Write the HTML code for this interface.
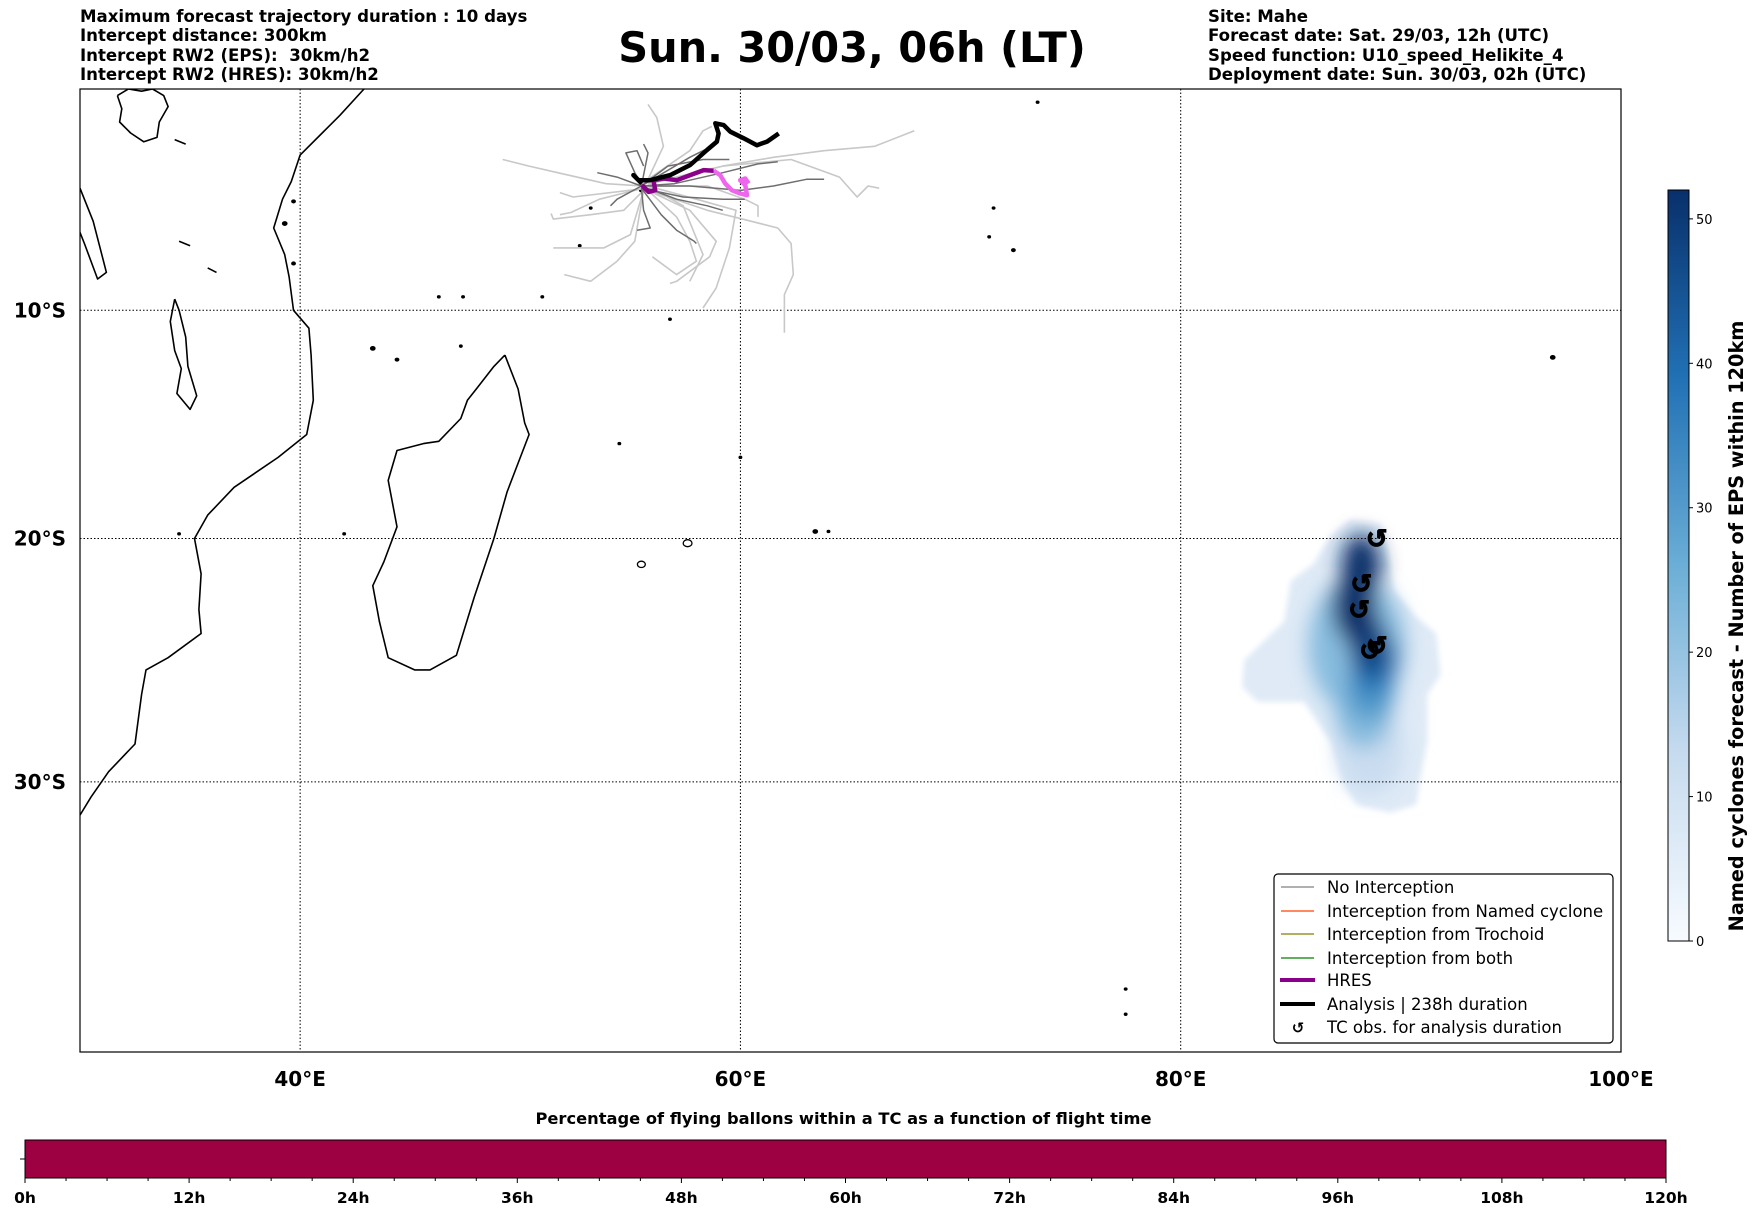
<!DOCTYPE html>
<html><head><meta charset="utf-8"><style>
body{margin:0;background:#fff;}
svg{display:block;font-family:"DejaVu Sans","Liberation Sans",sans-serif;}
</style></head><body>
<svg id="fig" width="1752" height="1213" viewBox="0 0 1752 1213" xmlns="http://www.w3.org/2000/svg">
<defs>
<linearGradient id="blues" x1="0" y1="1" x2="0" y2="0">
<stop offset="0" stop-color="#f7fbff"/><stop offset="0.25" stop-color="#c6dbef"/><stop offset="0.5" stop-color="#6baed6"/><stop offset="0.75" stop-color="#2171b5"/><stop offset="1" stop-color="#08306b"/>
</linearGradient>
<filter id="blur" x="-50%" y="-50%" width="200%" height="200%"><feGaussianBlur stdDeviation="10"/></filter>
<filter id="blur2" x="-20%" y="-20%" width="140%" height="140%"><feGaussianBlur stdDeviation="3"/></filter>
<clipPath id="mapclip"><rect x="80" y="89" width="1541" height="963"/></clipPath>
</defs>
<g font-weight="bold" font-size="16.6">
<text x="80" y="22">Maximum forecast trajectory duration : 10 days</text>
<text x="80" y="41">Intercept distance: 300km</text>
<text x="80" y="61" xml:space="preserve">Intercept RW2 (EPS):  30km/h2</text>
<text x="80" y="80">Intercept RW2 (HRES): 30km/h2</text>
</g>
<text x="852" y="62" text-anchor="middle" font-weight="bold" font-size="41.5">Sun. 30/03, 06h (LT)</text>
<g font-weight="bold" font-size="16.6">
<text x="1208" y="22">Site: Mahe</text>
<text x="1208" y="41">Forecast date: Sat. 29/03, 12h (UTC)</text>
<text x="1208" y="61">Speed function: U10_speed_Helikite_4</text>
<text x="1208" y="80">Deployment date: Sun. 30/03, 02h (UTC)</text>
</g>
<g id="map" clip-path="url(#mapclip)"></g>
<rect x="80" y="89" width="1541" height="963" fill="none" stroke="#000" stroke-width="1.2"/>
<g id="axes"></g>
<g>
<rect x="1274" y="874" width="339" height="169" rx="4" fill="#fff" stroke="#000" stroke-width="1.2"/>
<g font-size="16.5">
<line x1="1281" y1="887" x2="1314" y2="887" stroke="#808080" stroke-width="1.2"/><text x="1327" y="893">No Interception</text>
<line x1="1281" y1="911" x2="1314" y2="911" stroke="#ff4500" stroke-width="1.2"/><text x="1327" y="917">Interception from Named cyclone</text>
<line x1="1281" y1="934" x2="1314" y2="934" stroke="#808000" stroke-width="1.2"/><text x="1327" y="940">Interception from Trochoid</text>
<line x1="1281" y1="958" x2="1314" y2="958" stroke="#008000" stroke-width="1.2"/><text x="1327" y="964">Interception from both</text>
<line x1="1280" y1="980" x2="1315" y2="980" stroke="#8b008b" stroke-width="4"/><text x="1327" y="986">HRES</text>
<line x1="1280" y1="1004" x2="1315" y2="1004" stroke="#000" stroke-width="4"/><text x="1327" y="1010">Analysis | 238h duration</text>
<text x="1298" y="1033" text-anchor="middle" font-weight="bold" font-size="15">↺</text><text x="1327" y="1033">TC obs. for analysis duration</text>
</g>
</g>
<g id="cbar"></g>
<g id="bbar"></g>
</svg>
<script>
const NS="http://www.w3.org/2000/svg";
// ---- data ----
const lonTicks=[40,60,80,100];
const latTicks=[-10,-20,-30];
const cbarTicks=[0,10,20,30,40,50];
const cbarMax=52;
const flightHours=[0,12,24,36,48,60,72,84,96,108,120];
const coastAfrica=[[42.9,0],[41.8,-1.2],[41,-2],[40,-3],[39.6,-4.2],[39.2,-5],[38.8,-6.3],[39.3,-7.5],[39.5,-8.5],[39.7,-10],[40.4,-10.8],[40.5,-12],[40.6,-14],[40.3,-15.5],[39,-16.5],[37,-17.8],[35.8,-19],[35.2,-20],[35.5,-21.5],[35.4,-23],[35.5,-24],[34,-25],[33,-25.5],[32.8,-26.5],[32.5,-28.5],[31.3,-29.6],[30.5,-30.6],[30,-31.3]];
const coastMadagascar=[[49.3,-12],[49.9,-13.5],[50.2,-15],[50.4,-15.5],[49.8,-17],[49.4,-18],[48.8,-20],[47.9,-22.5],[47.1,-24.9],[45.9,-25.5],[45.2,-25.5],[44,-25],[43.6,-23.5],[43.3,-22],[43.8,-21],[44.4,-19.5],[44,-17.5],[44.4,-16.2],[45.6,-15.9],[46.3,-15.8],[47.3,-14.8],[47.6,-14],[48,-13.5],[48.8,-12.5],[49.3,-12]];
const lakeMalawi=[[34.3,-9.5],[34.1,-10.5],[34.3,-11.8],[34.6,-12.6],[34.4,-13.7],[35.0,-14.4],[35.3,-13.8],[34.9,-12.5],[34.8,-11.2],[34.5,-10],[34.3,-9.5]];
const lakeVictoria=[[31.7,-0.3],[32.2,0],[32.8,-0.1],[33.3,0],[33.8,-0.3],[34.0,-0.8],[33.6,-1.5],[33.5,-2.2],[32.9,-2.4],[32.3,-2.0],[31.8,-1.5],[31.9,-0.9],[31.7,-0.3]];
const lakeTanganyika=[[30,-4.5],[30.6,-6],[31.2,-8.3],[30.8,-8.6],[30.2,-7],[29.6,-5.5],[30,-4.5]];
const lakeOther=[[[34.3,-2.3],[34.8,-2.5]],[[34.5,-6.9],[35.0,-7.1]],[[35.8,-8.1],[36.2,-8.3]]];
const islands=[[55.5,-21.1,0.18],[57.6,-20.2,0.2],[63.4,-19.7,0.1],[55.5,-4.6,0.08],[43.3,-11.7,0.1],[44.4,-12.2,0.08],[39.3,-6.1,0.1],[39.7,-5.1,0.08],[39.7,-7.9,0.08],[72.4,-7.3,0.08],[71.5,-5.4,0.06],[73.5,-0.6,0.06],[96.9,-12.1,0.1],[77.5,-37.8,0.06],[77.5,-38.7,0.05],[46.3,-9.4,0.05],[47.4,-9.4,0.05],[51.0,-9.4,0.05],[53.2,-5.4,0.05],[52.7,-7.1,0.05],[56.8,-10.4,0.05],[47.3,-11.6,0.05],[54.5,-15.9,0.05],[42.0,-19.8,0.05],[60.0,-16.5,0.05],[71.3,-6.7,0.05],[64.0,-19.7,0.05],[34.5,-19.8,0.05]];
const trajLight=[
[[55.6,-4.4],[53.9,-4.3],[51.7,-3.8],[50.4,-3.5],[49.2,-3.2]],
[[55.6,-4.5],[53.6,-5.0],[52.3,-5.6],[51.8,-5.7]],
[[55.6,-4.6],[54.7,-5.5],[53.2,-5.7],[51.5,-5.9],[51.4,-5.65]],
[[55.6,-4.6],[55.0,-6.6],[53.8,-7.2],[51.5,-7.2]],
[[55.6,-4.6],[55.2,-6.9],[54.4,-7.8],[53.2,-8.7],[52.0,-8.4]],
[[55.8,-4.6],[57.1,-5.8],[57.7,-6.9],[58.0,-7.8],[57.1,-8.4],[56.0,-7.6]],
[[55.8,-4.6],[57.7,-5.5],[58.9,-6.9],[58.6,-7.6],[57.1,-8.7],[56.8,-8.8]],
[[55.8,-4.6],[58.5,-5.5],[60.5,-6.0],[61.7,-6.3],[62.3,-7.0],[62.4,-8.4],[62.0,-9.3],[62.0,-11.0]],
[[55.9,-4.3],[59.2,-3.5],[62.3,-3.2],[64.5,-4.0],[65.3,-4.9],[65.8,-4.4],[66.3,-4.5]],
[[55.8,-4.3],[59.2,-3.5],[61.5,-3.1],[63.8,-2.8],[66.1,-2.6],[67.9,-1.9]],
[[55.8,-4.1],[56.5,-2.6],[56.2,-1.3],[55.8,-0.7]],
[[55.8,-4.1],[57.7,-2.8],[58.3,-1.9],[58.7,-1.7]],
[[55.8,-4.4],[58.5,-4.4],[60.2,-5.0],[60.8,-5.3],[60.8,-5.8]],
[[55.8,-4.4],[58.0,-5.0],[59.8,-5.5],[59.5,-7.2],[58.9,-9.0],[58.3,-9.9]],
[[55.8,-4.5],[52.4,-4.9],[51.8,-4.7]],
[[55.8,-4.4],[57.4,-5.3],[58.3,-7.5],[57.7,-8.7]]];
const trajDark=[
[[55.5,-4.3],[55.2,-3.8],[54.8,-2.9],[55.3,-2.8],[55.6,-3.5]],
[[55.5,-4.4],[54.4,-4.0],[53.5,-3.8]],
[[55.5,-4.4],[57.0,-4.3],[59.2,-3.8],[60.8,-3.4],[61.7,-3.3]],
[[55.5,-4.4],[57.7,-4.4],[60.0,-4.6],[61.5,-4.4],[63.0,-4.1],[63.8,-4.1]],
[[55.5,-4.4],[57.7,-3.1],[58.3,-2.8],[58.9,-2.5]],
[[55.5,-4.4],[57.1,-5.0],[58.5,-5.3],[59.2,-5.5]],
[[55.5,-4.5],[55.6,-5.5],[55.9,-6.3],[55.3,-6.4]],
[[55.5,-4.5],[56.4,-5.7],[57.1,-6.4],[57.9,-6.9],[58.0,-7.0]],
[[55.5,-4.4],[54.4,-5.0],[54.1,-5.3]],
[[55.5,-4.4],[56.7,-3.5],[58.3,-3.2],[59.5,-3.2]],
[[55.5,-4.5],[57.4,-4.9],[59.2,-5.0],[60.2,-5.0]],
[[55.5,-4.4],[55.8,-2.9],[55.6,-2.5]]];
const analysisTrack=[[55.52,-4.29],[55.14,-3.91],[55.37,-4.14],[55.9,-4.14],[56.81,-3.91],[57.72,-3.45],[58.48,-2.77],[58.93,-2.39],[59.01,-2.02],[58.86,-1.56],[59.24,-1.64],[59.54,-1.94],[60.15,-2.24],[60.75,-2.55],[61.21,-2.39],[61.74,-2.02]];
const hresTrack=[[55.52,-4.36],[55.83,-4.67],[56.13,-4.59],[56.05,-4.14],[56.51,-4.06],[57.11,-4.14],[57.72,-3.91],[58.33,-3.68],[58.78,-3.71]];
const hresLate=[[58.78,-3.71],[59.08,-3.91],[59.31,-4.29],[59.61,-4.59],[59.99,-4.74],[60.3,-4.82],[60.22,-4.36],[59.99,-4.14],[60.22,-4.06],[60.37,-4.29]];
const densityOutline=[[87.7,-19.2],[89.1,-19.4],[89.4,-20.6],[89.7,-22.2],[90.7,-23.3],[91.6,-24.0],[91.8,-25.7],[91.2,-26.5],[91.2,-28.4],[90.9,-29.8],[90.7,-30.9],[89.5,-31.2],[88.0,-30.9],[87.4,-30.1],[86.8,-28.4],[85.6,-26.8],[83.5,-26.8],[82.8,-26.2],[82.9,-25.1],[84.7,-23.5],[85.0,-21.8],[86.0,-21.1],[86.8,-19.9]];
const blobLon=[88.6,88.3,88.6,88.7,88.9,88.2,87.9,88.5,88.0];
const blobLat=[-28.8,-27.2,-26.4,-25.5,-25.0,-21.2,-22.9,-24.4,-24.5];
const blobVal=[12,22,30,36,42,52,52,48,22];
const blobSpreadLon=[1.5,1.3,1.1,1.0,0.9,0.9,1.0,0.9,2.2];
const blobSpreadLat=[1.7,1.5,1.2,1.1,1.0,1.4,1.5,1.2,2.8];
const tcLon=[88.9,88.2,88.1,88.6,88.9];
const tcLat=[-20.0,-21.9,-23.0,-24.7,-24.5];
// ---- projection ----
const R=1261.3;
function X(lon){return 80+(lon-30)*22.014;}
function Y(lat){return 89-R*Math.log(Math.tan(Math.PI/4+lat*Math.PI/360));}
function pts(a){return a.map(p=>X(p[0]).toFixed(1)+","+Y(p[1]).toFixed(1)).join(" ");}
function el(tag,attrs,parent){const e=document.createElementNS(NS,tag);for(const k in attrs)e.setAttribute(k,attrs[k]);parent.appendChild(e);return e;}
function blues(t){const s=[[247,251,255],[198,219,239],[107,174,214],[33,113,181],[8,48,107]];t=Math.max(0,Math.min(1,t))*4;const i=Math.min(3,Math.floor(t)),f=t-i;return "rgb("+s[i].map((c,k)=>Math.round(c+(s[i+1][k]-c)*f)).join(",")+")";}
const map=document.getElementById("map");
// density
const dg=el("g",{},map);


const outl=el("polygon",{points:pts(densityOutline),fill:"#dfeaf6",filter:"url(#blur2)"},dg);


const bg=el("g",{filter:"url(#blur)"},dg);
const order=blobVal.map((v,i)=>i).sort((a,b)=>blobVal[a]-blobVal[b]);
for(const i of order){
 const cx=X(blobLon[i]),cy=Y(blobLat[i]);
 const rx=X(blobLon[i]+blobSpreadLon[i])-cx,ry=Y(blobLat[i]-blobSpreadLat[i])-cy;
 const e=el("ellipse",{cx:cx,cy:cy,rx:rx,ry:ry,fill:blues(blobVal[i]/cbarMax)},bg);
 
 
}
// grid
for(const lon of lonTicks){if(lon>=100)continue;const l=el("line",{x1:X(lon),x2:X(lon),y1:89,y2:1052,stroke:"#000","stroke-width":1,"stroke-dasharray":"1.5,2"},map);

}
for(const lat of latTicks){const l=el("line",{x1:80,x2:1621,y1:Y(lat),y2:Y(lat),stroke:"#000","stroke-width":1,"stroke-dasharray":"1.5,2"},map);

}
// coasts
const cg=el("g",{fill:"none",stroke:"#000","stroke-width":1.6,"stroke-linejoin":"round"},map);


const af=el("polyline",{points:pts(coastAfrica)},cg);


const md=el("polyline",{points:pts(coastMadagascar)},cg);


for(const lk of [lakeMalawi,lakeVictoria,lakeTanganyika]){const p=el("polyline",{points:pts(lk)},cg);

}
for(const lk of lakeOther){const p=el("polyline",{points:pts(lk)},cg);

}
for(const is of islands){const cx=X(is[0]),cy=Y(is[1]),r=Math.max(1.3,is[2]*22);const c=el("ellipse",{cx:cx,cy:cy,rx:r,ry:r*0.8,fill:is[2]<0.15?"#000":"none","stroke-width":1.3},cg);

}
// trajectories
for(const t of trajLight){const p=el("polyline",{points:pts(t),fill:"none",stroke:"#c8c8c8","stroke-width":1.6,"stroke-linejoin":"round"},map);

}
for(const t of trajDark){const p=el("polyline",{points:pts(t),fill:"none",stroke:"#6e6e6e","stroke-width":1.5,"stroke-linejoin":"round"},map);

}
const hl=el("polyline",{points:pts(hresLate),fill:"none",stroke:"#ee66ee","stroke-width":4.5,"stroke-linejoin":"round"},map);


const hr=el("polyline",{points:pts(hresTrack),fill:"none",stroke:"#8b008b","stroke-width":4.5,"stroke-linejoin":"round"},map);


const an=el("polyline",{points:pts(analysisTrack),fill:"none",stroke:"#000","stroke-width":4.5,"stroke-linejoin":"round"},map);


for(let i=0;i<tcLon.length;i++){const t=el("text",{x:X(tcLon[i]),y:Y(tcLat[i])+9,"text-anchor":"middle","font-size":26,"font-weight":"bold",stroke:"#000","stroke-width":1},map);t.textContent="↺";

}
// axes labels
const ax=document.getElementById("axes");
for(const lon of lonTicks){const t=el("text",{x:X(lon),y:1086,"text-anchor":"middle","font-size":20,"font-weight":"bold"},ax);t.textContent=lon+"°E";

}
for(const lat of latTicks){const t=el("text",{x:66,y:Y(lat)+7,"text-anchor":"end","font-size":20,"font-weight":"bold"},ax);t.textContent=(-lat)+"°S";

}
// right colorbar
const cb=document.getElementById("cbar");
const cbTop=190,cbBot=941,cbX=1668,cbW=21;
function CY(v){return cbBot-(v/cbarMax)*(cbBot-cbTop);}
el("rect",{x:cbX,y:cbTop,width:cbW,height:cbBot-cbTop,fill:"url(#blues)",stroke:"#000","stroke-width":1},cb);
for(const v of cbarTicks){el("line",{x1:cbX+cbW,x2:cbX+cbW+4,y1:CY(v),y2:CY(v),stroke:"#000"},cb);const t=el("text",{x:cbX+cbW+7,y:CY(v)+5,"font-size":13},cb);t.textContent=v;

}
const ct=el("text",{x:0,y:0,"font-size":19.3,"font-weight":"bold","text-anchor":"middle",transform:"translate(1743,626) rotate(-90)"},cb);ct.textContent="Named cyclones forecast - Number of EPS within 120km";


// bottom colorbar
const bb=document.getElementById("bbar");
const bx0=25,bx1=1666,by0=1140,by1=1178;
function BX(h){return bx0+h/120*(bx1-bx0);}
const bt=el("text",{x:(bx0+bx1)/2-2,y:1124,"text-anchor":"middle","font-size":16.3,"font-weight":"bold"},bb);bt.textContent="Percentage of flying ballons within a TC as a function of flight time";


el("rect",{x:bx0,y:by0,width:bx1-bx0,height:by1-by0,fill:"#9e0142",stroke:"#000","stroke-width":1},bb);
el("line",{x1:bx0-5,x2:bx0,y1:(by0+by1)/2,y2:(by0+by1)/2,stroke:"#000"},bb);
for(let h=0;h<=120;h+=3){el("line",{x1:BX(h),x2:BX(h),y1:by1,y2:by1+(h%12===0?5:3),stroke:"#000"},bb);}
for(const h of flightHours){const t=el("text",{x:BX(h),y:1203,"text-anchor":"middle","font-size":15.5,"font-weight":"bold"},bb);t.textContent=h+"h";

}
</script>
</body></html>
